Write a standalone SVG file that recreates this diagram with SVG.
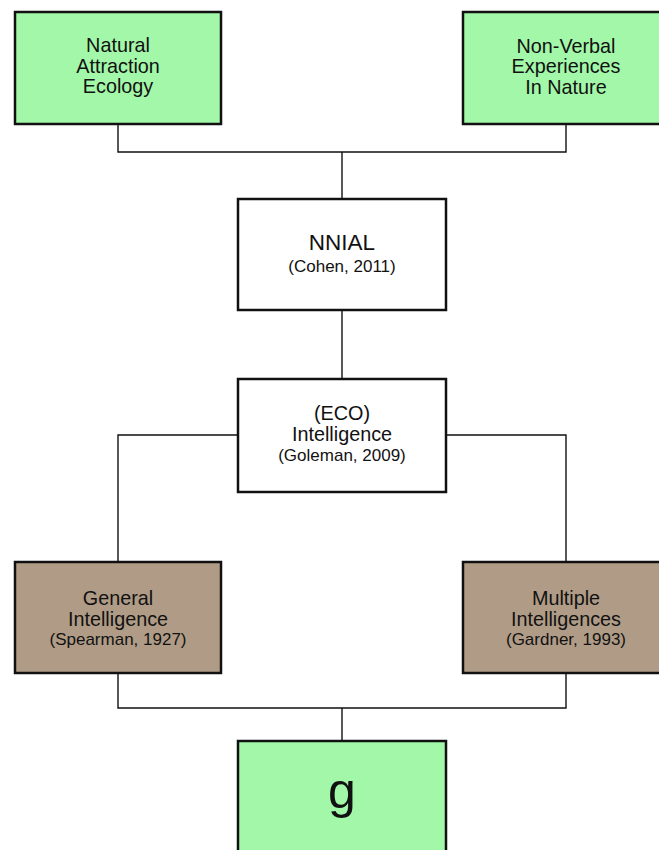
<svg xmlns="http://www.w3.org/2000/svg" width="659" height="850" viewBox="0 0 659 850">
<style>
.box{stroke:#111;stroke-width:2.5}
.green{fill:#A2F8A8}
.brown{fill:#B09C86}
.white{fill:#fff}
.conn{fill:none;stroke:#111;stroke-width:1.4}
text{font-family:"Liberation Sans",Arial,sans-serif;fill:#111;text-anchor:middle}
.t{font-size:19.8px}
.c{font-size:17px}
</style>
<rect width="659" height="850" fill="#fff"/>
<g id="connectors">
<path class="conn" d="M118,124 V152 H566 V124"/>
<path class="conn" d="M342,152 V199"/>
<path class="conn" d="M342,310 V379"/>
<path class="conn" d="M238,435 H118 V562"/>
<path class="conn" d="M446,435 H566 V562"/>
<path class="conn" d="M118,673 V708 H566 V673"/>
<path class="conn" d="M342,708 V741"/>
</g>
<g id="natural">
<rect class="box green" x="15" y="12" width="206" height="112"/>
<text class="t" x="118" y="52">Natural</text>
<text class="t" x="118" y="72.5">Attraction</text>
<text class="t" x="118" y="93">Ecology</text>
</g>
<g id="nonverbal">
<rect class="box green" x="463" y="12" width="206" height="112"/>
<text class="t" x="566" y="52.5">Non-Verbal</text>
<text class="t" x="566" y="73">Experiences</text>
<text class="t" x="566" y="93.5">In Nature</text>
</g>
<g id="nnial">
<rect class="box white" x="238" y="199" width="208" height="111"/>
<text x="342" y="250" style="font-size:22.5px">NNIAL</text>
<text class="c" x="342" y="272">(Cohen, 2011)</text>
</g>
<g id="eco">
<rect class="box white" x="238" y="379" width="208" height="113"/>
<text class="t" x="342" y="420">(ECO)</text>
<text class="t" x="342" y="441">Intelligence</text>
<text class="c" x="342" y="461">(Goleman, 2009)</text>
</g>
<g id="general">
<rect class="box brown" x="15" y="562" width="206" height="111"/>
<text class="t" x="118" y="605">General</text>
<text class="t" x="118" y="626">Intelligence</text>
<text class="c" x="118" y="645">(Spearman, 1927)</text>
</g>
<g id="multiple">
<rect class="box brown" x="463" y="562" width="206" height="111"/>
<text class="t" x="566" y="605">Multiple</text>
<text class="t" x="566" y="626">Intelligences</text>
<text class="c" x="566" y="645">(Gardner, 1993)</text>
</g>
<g id="g">
<rect class="box green" x="238" y="741" width="208" height="130"/>
<text x="342" y="808" style="font-size:50px">g</text>
</g>
</svg>
